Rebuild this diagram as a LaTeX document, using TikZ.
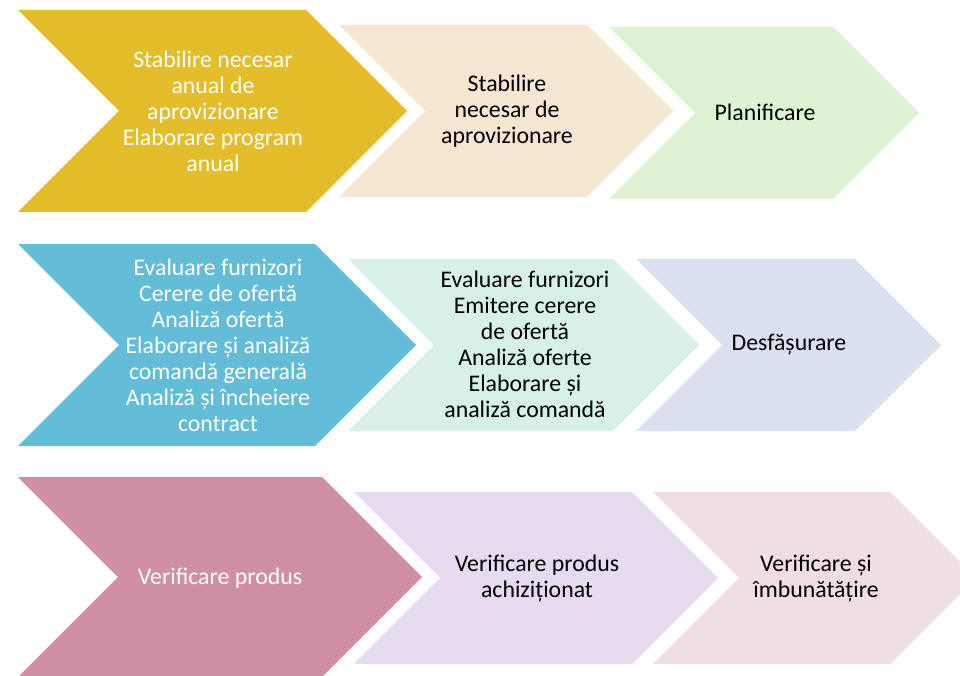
\documentclass[tikz,border=0pt]{standalone}
\usepackage{fontspec}
\setmainfont{Carlito}
\definecolor{aur}{RGB}{228,189,42}
\definecolor{bej}{RGB}{245,231,209}
\definecolor{verde}{RGB}{223,243,212}
\definecolor{albastru}{RGB}{99,189,216}
\definecolor{menta}{RGB}{216,241,232}
\definecolor{lavanda}{RGB}{217,224,240}
\definecolor{mov}{RGB}{207,144,166}
\definecolor{liliac}{RGB}{231,219,239}
\definecolor{roz}{RGB}{239,222,227}
\tikzset{etapa/.style={align=center, font=\fontsize{23.8}{26}\selectfont, inner sep=0pt}}

\begin{document}
\begin{tikzpicture}[x=1pt,y=-1pt]
    \useasboundingbox (0,0) rectangle (960,676);
    \clip (0,0) rectangle (960,676);
    % les chevrons : coin haut gauche / longueur du haut / hauteur / couleur
    \foreach \x/\y/\w/\h/\c in {18/10/288/202/aur, 339/25/248/172/bej, 609/27/224/172/verde,
        18/244/297/202/albastru, 348/259/265/172/menta, 636/259/219/172/lavanda,
        18/477/304/200/mov, 354/492/278/172/liliac, 653/492/237/172/roz} {
        \fill[\c] (\x,\y) -- ++(\w,0) -- ++(\h/2,\h/2) -- ++(-\h/2,\h/2)
            -- ++(-\w,0) -- ++(\h/2,-\h/2) -- cycle;
    }
    % textes
    \node[etapa, white] (necesarAnual) at (213,111) {Stabilire necesar\\anual de\\aprovizionare\\Elaborare program\\anual};
    \node[etapa] (necesar) at (507,111) {Stabilire\\necesar de\\aprovizionare};
    \node[etapa] (planificare) at (765,112) {Planificare};
    \node[etapa, white] (furnizori) at (218,345) {Evaluare furnizori\\Cerere de ofertă\\Analiză ofertă\\Elaborare și analiză\\comandă generală\\Analiză și încheiere\\contract};
    \node[etapa] (oferte) at (525,344) {Evaluare furnizori\\Emitere cerere\\de ofertă\\Analiză oferte\\Elaborare și\\analiză comandă};
    \node[etapa] (desfasurare) at (789,345) {Desfășurare};
    \node[etapa, white] (produs) at (220,578) {Verificare produs};
    \node[etapa] (achizitionat) at (537,578) {Verificare produs\\achiziționat};
    \node[etapa] (imbunatatire) at (816,578) {Verificare și\\îmbunătățire};
\end{tikzpicture}
\end{document}
